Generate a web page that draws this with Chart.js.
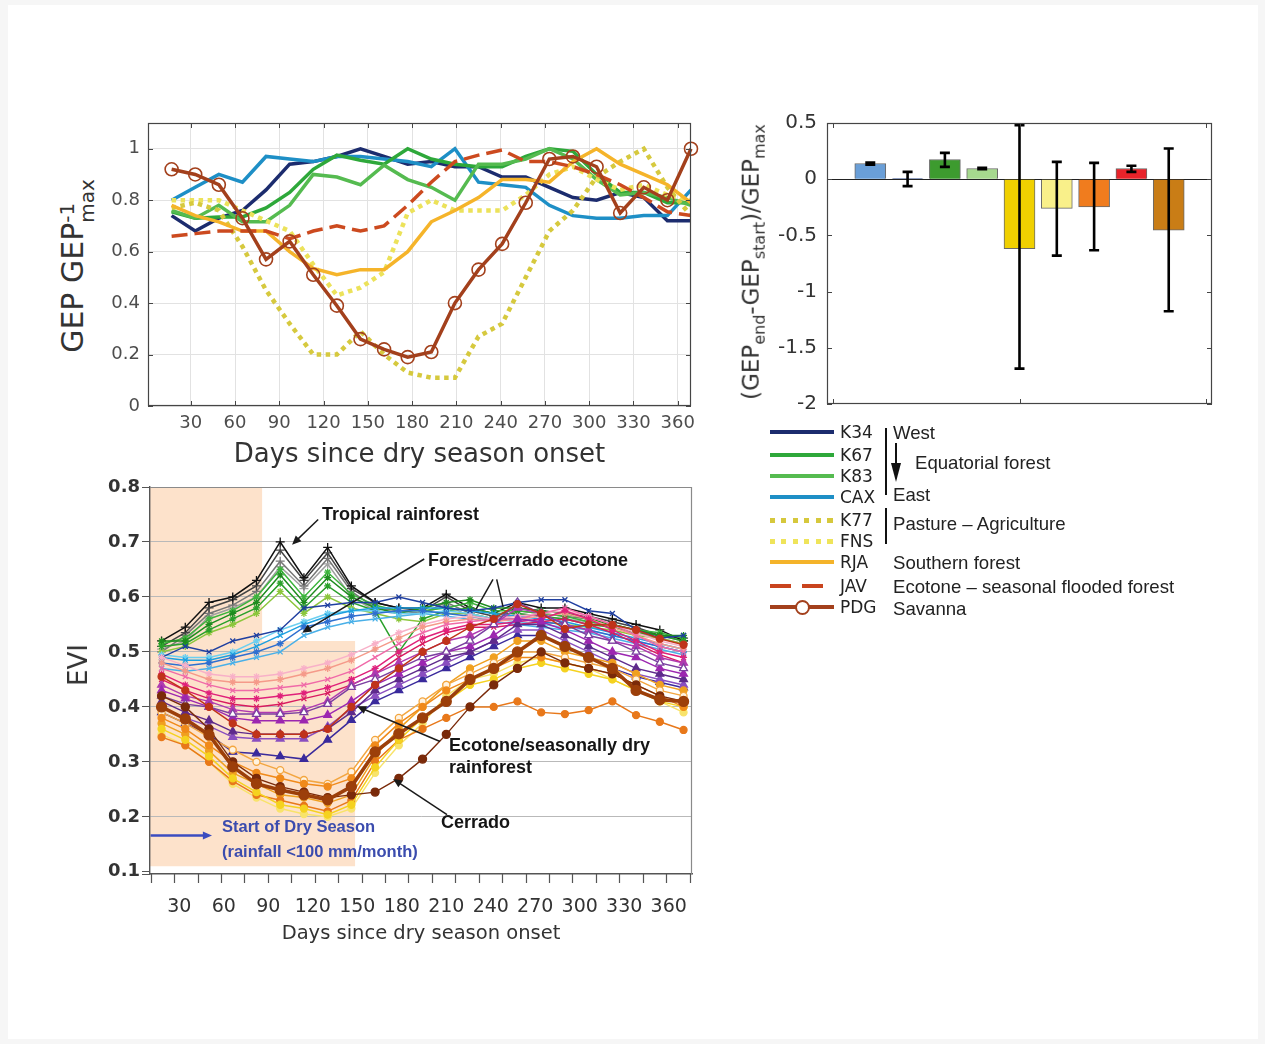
<!DOCTYPE html>
<html><head><meta charset="utf-8">
<script src="https://cdn.jsdelivr.net/npm/chart.js@4.4.0/dist/chart.umd.min.js"></script>
<style>
html,body{margin:0;padding:0;}
body{width:1265px;height:1044px;position:relative;overflow:hidden;background:#f6f6f6;font-family:"DejaVu Sans",sans-serif;}
#panel{position:absolute;left:8px;top:5px;width:1250px;height:1034px;background:#fff;}
canvas{position:absolute;}
.rot{position:absolute;transform:translate(-50%,-50%) rotate(-90deg);white-space:nowrap;color:#333;}
.t{position:absolute;transform:translateY(-50%);white-space:nowrap;}
.ann{font-family:"Liberation Sans",Arial,sans-serif;font-weight:bold;font-size:18px;color:#151515;}
.blue{font-family:"Liberation Sans",Arial,sans-serif;font-weight:bold;font-size:16.5px;color:#3b4cae;}
.lc{font-family:"DejaVu Sans";font-size:17px;color:#222;left:840px;}
.lg{font-family:"Liberation Sans",Arial,sans-serif;font-size:18.6px;color:#222;}
.ls{position:absolute;left:770px;width:64px;height:4px;margin-top:-2px;}
.vb{position:absolute;width:2px;background:#111;}
.ss{display:inline-block;line-height:1;text-align:left;}
.ss span{display:block;}
</style></head><body>
<div id="panel"></div>
<canvas id="cA" width="620" height="370" style="left:100px;top:110px"></canvas>
<canvas id="cB" width="480" height="320" style="left:760px;top:105px"></canvas>
<canvas id="cC" width="660" height="480" style="left:60px;top:470px"></canvas>

<!-- axis titles with sub/superscripts -->
<div class="rot" style="left:76px;top:266px;font-size:30px;">GEP GEP<span class="ss" style="font-size:20px;vertical-align:-0.55em;"><span>-1</span><span>max</span></span></div>
<div class="rot" style="left:753px;top:262px;font-size:23px;">(GEP<sub style="font-size:16px">end</sub>-GEP<sub style="font-size:16px">start</sub>)/GEP<sub style="font-size:16px">max</sub></div>
<div class="rot" style="left:78px;top:665px;font-size:26px;">EVI</div>

<!-- bottom panel annotations -->
<div class="t ann" style="left:322px;top:514px">Tropical rainforest</div>
<div class="t ann" style="left:428px;top:560px">Forest/cerrado ecotone</div>
<div class="t ann" style="left:449px;top:745px">Ecotone/seasonally dry</div>
<div class="t ann" style="left:449px;top:767px">rainforest</div>
<div class="t ann" style="left:441px;top:822px">Cerrado</div>
<div class="t blue" style="left:222px;top:826px">Start of Dry Season</div>
<div class="t blue" style="left:222px;top:851px">(rainfall &lt;100 mm/month)</div>

<!-- legend -->
<div class="ls" style="top:432px;background:#1c2c6e"></div><div class="t lc" style="top:432px">K34</div>
<div class="ls" style="top:455px;background:#2ea83a"></div><div class="t lc" style="top:455px">K67</div>
<div class="ls" style="top:476px;background:#55bb50"></div><div class="t lc" style="top:476px">K83</div>
<div class="ls" style="top:497px;background:#1e8fc6"></div><div class="t lc" style="top:497px">CAX</div>
<div class="ls" style="top:520px;height:5px;margin-top:-2.5px;background:repeating-linear-gradient(90deg,#d6c83c 0 5px,transparent 5px 11.5px)"></div><div class="t lc" style="top:520px">K77</div>
<div class="ls" style="top:541px;height:5px;margin-top:-2.5px;background:repeating-linear-gradient(90deg,#efe45a 0 5px,transparent 5px 11.5px)"></div><div class="t lc" style="top:541px">FNS</div>
<div class="ls" style="top:562px;background:#f4b32a"></div><div class="t lc" style="top:562px">RJA</div>
<div class="ls" style="top:586px;background:repeating-linear-gradient(90deg,#c9441e 0 21px,transparent 21px 32px)"></div><div class="t lc" style="top:586px">JAV</div>
<div class="ls" style="top:607px;background:#a3401c"></div>
<div style="position:absolute;left:795px;top:600px;width:11px;height:11px;border:2px solid #a3401c;border-radius:50%;background:#fff;"></div>
<div class="t lc" style="top:607px">PDG</div>
<div class="vb" style="left:885px;top:428px;height:67px"></div>
<div class="vb" style="left:885px;top:508px;height:36px"></div>
<div style="position:absolute;left:895px;top:443px;width:2px;height:24px;background:#111"></div>
<div style="position:absolute;left:891px;top:463px;width:0;height:0;border-left:5px solid transparent;border-right:5px solid transparent;border-top:19px solid #111"></div>
<div class="t lg" style="left:893px;top:433px">West</div>
<div class="t lg" style="left:915px;top:463px">Equatorial forest</div>
<div class="t lg" style="left:893px;top:495px">East</div>
<div class="t lg" style="left:893px;top:524px">Pasture – Agriculture</div>
<div class="t lg" style="left:893px;top:563px">Southern forest</div>
<div class="t lg" style="left:893px;top:587px">Ecotone – seasonal flooded forest</div>
<div class="t lg" style="left:893px;top:609px">Savanna</div>

<script>
// ---------------- DATA: top-left GEP panel ----------------
const gepDays = [17,33,49,65,81,97,113,129,145,161,177,193,209,225,241,257,273,289,305,321,337,353,369];
const gepXTicks = [30,60,90,120,150,180,210,240,270,300,330,360];
const gepYTicks = [0,0.2,0.4,0.6,0.8,1];
const K34 = [0.74,0.68,0.73,0.76,0.84,0.94,0.95,0.97,1.00,0.97,0.94,0.95,0.93,0.93,0.89,0.89,0.85,0.81,0.80,0.83,0.81,0.72,0.72];
const K67 = [0.755,0.73,0.735,0.735,0.77,0.83,0.92,0.975,0.955,0.94,1.00,0.96,0.94,0.93,0.93,0.97,1.00,0.99,0.90,0.83,0.83,0.79,0.79];
const K83 = [0.76,0.73,0.78,0.716,0.716,0.78,0.90,0.89,0.86,0.936,0.88,0.85,0.80,0.94,0.94,0.96,1.00,0.96,0.88,0.82,0.83,0.81,0.78];
const CAX = [0.80,0.85,0.90,0.87,0.97,0.96,0.95,0.97,0.97,0.96,0.95,0.93,1.00,0.87,0.86,0.85,0.78,0.74,0.73,0.73,0.74,0.74,0.84];
const K77 = [0.77,0.79,0.76,0.62,0.45,0.32,0.20,0.20,0.29,0.20,0.13,0.11,0.11,0.27,0.32,0.50,0.68,0.76,0.89,0.95,1.00,0.85,0.74];
const FNS = [0.80,0.80,0.80,0.76,0.72,0.68,0.55,0.43,0.46,0.52,0.75,0.80,0.76,0.76,0.76,0.82,0.90,0.93,0.88,0.84,0.86,0.82,0.80];
const RJA = [0.78,0.74,0.716,0.68,0.68,0.60,0.535,0.51,0.53,0.53,0.60,0.716,0.76,0.81,0.88,0.88,0.87,0.95,1.00,0.94,0.90,0.86,0.79];
const JAV = [0.66,0.67,0.68,0.68,0.68,0.65,0.68,0.70,0.68,0.70,0.78,0.87,0.95,0.975,0.995,0.95,0.95,0.93,0.90,0.86,0.81,0.755,0.74];
const PDG = [0.92,0.90,0.86,0.73,0.57,0.64,0.51,0.39,0.26,0.22,0.19,0.21,0.40,0.53,0.63,0.79,0.96,0.97,0.93,0.75,0.85,0.80,1.00];

// ---------------- DATA: top-right bar panel ----------------
const barSites = ['K34','K67','K83','CAX','K77','FNS','RJA','JAV','PDG'];
const barPos   = [1,2,3,4,5,6,7,8,9];
const barVals  = [0.14,0.005,0.175,0.095,-0.617,-0.26,-0.246,0.095,-0.454];
const barErrLo = [0.13,-0.062,0.11,0.088,-1.685,-0.68,-0.632,0.065,-1.175];
const barErrHi = [0.148,0.065,0.234,0.102,0.48,0.154,0.145,0.12,0.273];
const barXTicks = [0,5,10];
const barYTicks = [-2,-1.5,-1,-0.5,0,0.5];

// ---------------- DATA: bottom EVI panel ----------------
const eviDays = [18,34,50,66,82,98,114,130,146,162,178,194,210,226,242,258,274,290,306,322,338,354,370];
const eviXTicks = [30,60,90,120,150,180,210,240,270,300,330,360];
const eviYTicks = [0.1,0.2,0.3,0.4,0.5,0.6,0.7,0.8];
// tropical rainforest (black / grey)
const evi_rf1 = [0.52,0.545,0.59,0.60,0.63,0.70,0.635,0.69,0.62,0.59,0.58,0.58,0.605,0.58,0.57,0.59,0.58,0.58,0.57,0.56,0.55,0.54,0.52];
const evi_rf2 = [0.51,0.535,0.58,0.595,0.62,0.685,0.63,0.68,0.615,0.59,0.58,0.575,0.60,0.575,0.565,0.58,0.575,0.57,0.565,0.555,0.545,0.53,0.525];
const evi_rf3 = [0.50,0.53,0.57,0.585,0.61,0.665,0.62,0.67,0.61,0.58,0.575,0.57,0.59,0.57,0.56,0.575,0.57,0.565,0.56,0.55,0.54,0.53,0.52];
const evi_rf4 = [0.505,0.52,0.565,0.58,0.60,0.655,0.615,0.66,0.60,0.575,0.57,0.57,0.585,0.565,0.555,0.57,0.565,0.56,0.555,0.545,0.535,0.525,0.515];
// tropical rainforest (green)
const evi_gr1 = [0.52,0.52,0.55,0.57,0.59,0.64,0.59,0.635,0.60,0.58,0.57,0.58,0.59,0.595,0.58,0.58,0.575,0.57,0.56,0.55,0.54,0.53,0.53];
const evi_gr2 = [0.51,0.515,0.54,0.56,0.58,0.625,0.58,0.62,0.59,0.575,0.50,0.56,0.575,0.58,0.57,0.57,0.565,0.56,0.55,0.545,0.535,0.53,0.52];
const evi_gr3 = [0.515,0.525,0.56,0.575,0.60,0.65,0.60,0.645,0.605,0.585,0.575,0.575,0.58,0.59,0.575,0.575,0.57,0.565,0.555,0.55,0.54,0.535,0.525];
const evi_gr4 = [0.50,0.51,0.535,0.55,0.57,0.61,0.57,0.60,0.58,0.57,0.56,0.555,0.57,0.57,0.56,0.56,0.555,0.55,0.545,0.54,0.53,0.525,0.515];
// forest/cerrado ecotone (blues)
const evi_ec1 = [0.49,0.51,0.50,0.52,0.53,0.54,0.58,0.585,0.59,0.59,0.60,0.59,0.58,0.575,0.58,0.59,0.595,0.595,0.575,0.57,0.54,0.525,0.53];
const evi_ec2 = [0.48,0.475,0.48,0.49,0.50,0.515,0.545,0.555,0.565,0.57,0.575,0.575,0.57,0.565,0.56,0.56,0.555,0.55,0.54,0.53,0.52,0.51,0.50];
const evi_ec3 = [0.49,0.485,0.485,0.495,0.51,0.53,0.55,0.565,0.575,0.58,0.58,0.58,0.58,0.575,0.57,0.565,0.56,0.555,0.545,0.535,0.525,0.515,0.505];
const evi_ec4 = [0.495,0.49,0.49,0.50,0.52,0.54,0.555,0.57,0.575,0.575,0.57,0.57,0.575,0.57,0.56,0.555,0.55,0.545,0.54,0.53,0.52,0.51,0.50];
const evi_ec5 = [0.47,0.465,0.47,0.48,0.49,0.50,0.53,0.545,0.555,0.56,0.565,0.57,0.565,0.56,0.555,0.55,0.545,0.54,0.535,0.525,0.515,0.505,0.495];
// pinks
const evi_pk1 = [0.46,0.44,0.425,0.415,0.415,0.42,0.425,0.435,0.45,0.47,0.50,0.525,0.54,0.55,0.55,0.555,0.56,0.575,0.56,0.54,0.52,0.50,0.49];
const evi_pk2 = [0.47,0.455,0.44,0.43,0.43,0.435,0.44,0.45,0.465,0.49,0.515,0.535,0.55,0.555,0.56,0.56,0.57,0.58,0.565,0.55,0.53,0.51,0.50];
const evi_pk3 = [0.48,0.465,0.45,0.445,0.445,0.45,0.46,0.47,0.485,0.505,0.525,0.545,0.555,0.56,0.555,0.56,0.565,0.57,0.56,0.545,0.53,0.515,0.505];
const evi_pk4 = [0.45,0.43,0.415,0.405,0.40,0.405,0.415,0.425,0.44,0.46,0.49,0.515,0.535,0.545,0.545,0.55,0.555,0.56,0.55,0.535,0.515,0.495,0.48];
const evi_pk5 = [0.49,0.475,0.46,0.455,0.455,0.46,0.47,0.48,0.495,0.515,0.535,0.55,0.56,0.565,0.56,0.565,0.57,0.575,0.565,0.55,0.535,0.52,0.51];
// ecotone / seasonally dry rainforest (purples)
const evi_pu1 = [0.42,0.405,0.40,0.387,0.387,0.387,0.39,0.405,0.436,0.45,0.47,0.49,0.50,0.52,0.55,0.59,0.57,0.55,0.53,0.52,0.50,0.48,0.47];
const evi_pu2 = [0.43,0.415,0.40,0.38,0.375,0.375,0.375,0.385,0.41,0.44,0.46,0.48,0.50,0.51,0.53,0.56,0.555,0.54,0.52,0.50,0.49,0.47,0.46];
const evi_pu3 = [0.41,0.39,0.375,0.355,0.35,0.35,0.35,0.36,0.39,0.43,0.45,0.47,0.49,0.50,0.52,0.55,0.55,0.53,0.51,0.49,0.47,0.46,0.45];
const evi_pu4 = [0.40,0.38,0.365,0.345,0.342,0.342,0.342,0.364,0.397,0.42,0.44,0.46,0.48,0.50,0.52,0.54,0.54,0.52,0.50,0.48,0.46,0.45,0.44];
const evi_pu5 = [0.39,0.37,0.35,0.318,0.315,0.31,0.305,0.34,0.376,0.41,0.43,0.45,0.47,0.49,0.51,0.53,0.53,0.51,0.49,0.47,0.455,0.445,0.435];
const evi_pu6 = [0.44,0.42,0.41,0.395,0.39,0.39,0.395,0.41,0.44,0.46,0.48,0.50,0.52,0.53,0.55,0.58,0.57,0.55,0.54,0.52,0.51,0.49,0.48];
// cerrado (oranges / yellows / browns)
const evi_ce1 = [0.40,0.378,0.349,0.291,0.26,0.249,0.24,0.231,0.255,0.318,0.351,0.38,0.41,0.45,0.47,0.50,0.53,0.51,0.49,0.47,0.43,0.413,0.41];
const evi_ce2 = [0.38,0.36,0.33,0.30,0.28,0.27,0.26,0.255,0.27,0.33,0.37,0.40,0.43,0.45,0.47,0.49,0.49,0.48,0.47,0.46,0.44,0.42,0.40];
const evi_ce3 = [0.39,0.37,0.345,0.322,0.30,0.285,0.267,0.26,0.282,0.34,0.38,0.41,0.44,0.46,0.48,0.50,0.50,0.49,0.48,0.47,0.45,0.43,0.42];
const evi_ce4 = [0.36,0.34,0.31,0.27,0.245,0.222,0.215,0.204,0.222,0.29,0.34,0.38,0.41,0.44,0.45,0.47,0.48,0.47,0.46,0.45,0.43,0.41,0.40];
const evi_ce5 = [0.345,0.33,0.30,0.265,0.24,0.23,0.22,0.21,0.23,0.30,0.34,0.36,0.38,0.40,0.40,0.41,0.39,0.387,0.394,0.41,0.385,0.373,0.358];
const evi_ce6 = [0.37,0.35,0.32,0.28,0.26,0.24,0.235,0.225,0.24,0.31,0.36,0.40,0.44,0.47,0.49,0.52,0.52,0.50,0.49,0.48,0.46,0.44,0.43];
const evi_ce7 = [0.42,0.40,0.36,0.30,0.27,0.255,0.245,0.235,0.24,0.245,0.27,0.305,0.35,0.40,0.44,0.47,0.50,0.48,0.47,0.46,0.44,0.42,0.41];
const evi_ce8 = [0.455,0.43,0.40,0.37,0.35,0.35,0.35,0.36,0.40,0.44,0.47,0.50,0.52,0.545,0.56,0.587,0.57,0.542,0.55,0.549,0.54,0.524,0.513];
const evi_ce9 = [0.35,0.33,0.30,0.26,0.235,0.215,0.205,0.20,0.215,0.28,0.33,0.37,0.42,0.45,0.46,0.48,0.49,0.48,0.47,0.45,0.43,0.41,0.39];

// annotation geometry in data units (day, EVI)
const eviShade = {x0:10.2, x1:85.8, x2:148.5, yTop:0.8, yStep:0.52, yBot:0.11};
const eviArrows = [
  {from:[123.6,0.741], to:[106.0,0.695], head:true},
  {from:[195.1,0.669], to:[112.8,0.535], head:true},
  {from:[241.5,0.632], to:[230.1,0.578], head:false},
  {from:[244.0,0.632], to:[248.3,0.582], head:false},
  {from:[205.8,0.337], to:[149.8,0.401], head:true},
  {from:[210.5,0.204], to:[174.1,0.269], head:true},
  {from:[10.6,0.166], to:[52.0,0.166], head:true, color:'#3b4cc0', w:2.6}
];

// ---------------- helpers ----------------
const pts = (days, vals) => vals.map((v,i)=>({x:days[i], y:v}));
const FONT = 'DejaVu Sans';

const mbox = {id:'mbox', afterDraw(c, args, o){
  const ctx=c.ctx, a=c.chartArea, L=o.len||5, xs=c.scales.x, ys=c.scales.y;
  ctx.save(); ctx.strokeStyle=o.color||'#444'; ctx.lineWidth=1;
  ctx.beginPath();
  xs.ticks.forEach(t=>{const p=Math.round(xs.getPixelForValue(t.value))+0.5;
    ctx.moveTo(p,a.bottom); ctx.lineTo(p,a.bottom-L); ctx.moveTo(p,a.top); ctx.lineTo(p,a.top+L);});
  ys.ticks.forEach(t=>{const p=Math.round(ys.getPixelForValue(t.value))+0.5;
    ctx.moveTo(a.left,p); ctx.lineTo(a.left+L,p); ctx.moveTo(a.right,p); ctx.lineTo(a.right-L,p);});
  ctx.stroke();
  ctx.lineWidth=1.2; ctx.strokeRect(a.left+0.5,a.top+0.5,a.width-1,a.height-1);
  ctx.restore();
}};

// ---------------- chart A ----------------
const lineDs = (label, vals, color, w, extra) => Object.assign({label, data:pts(gepDays, vals), borderColor:color, backgroundColor:color, borderWidth:w, pointRadius:0, fill:false}, extra||{});
new Chart(document.getElementById('cA'), {
  type:'line',
  data:{datasets:[
    lineDs('PDG', PDG, '#a3401c', 3.5, {pointRadius:6.5, pointBorderWidth:1.6, pointBorderColor:'#a3401c', pointBackgroundColor:'rgba(255,255,255,0)', clip:10}),
    lineDs('JAV', JAV, '#cc4a1f', 3.5, {borderDash:[16,7]}),
    lineDs('RJA', RJA, '#f5b42a', 3.5),
    lineDs('K77', K77, '#d6c93e', 4.5, {borderDash:[4.5,4.5]}),
    lineDs('FNS', FNS, '#ece25a', 4.5, {borderDash:[4.5,4.5]}),
    lineDs('K83', K83, '#55bb50', 3.5),
    lineDs('K67', K67, '#2ea83a', 3.5),
    lineDs('CAX', CAX, '#1e8fc6', 3.5),
    lineDs('K34', K34, '#1c2c6e', 3.5)
  ]},
  options:{
    responsive:false, animation:false, devicePixelRatio:1,
    layout:{autoPadding:false, padding:{top:13,right:29,left:0,bottom:0}},
    plugins:{legend:{display:false}, tooltip:{enabled:false}, mbox:{color:'#454545',len:5}},
    elements:{line:{tension:0}},
    scales:{
      x:{type:'linear', min:1, max:369,
        afterBuildTicks:s=>{s.ticks=gepXTicks.map(v=>({value:v}));},
        afterFit:s=>{s.height=74;},
        grid:{color:'#e2e2e2', drawTicks:false}, border:{display:false},
        ticks:{font:{family:FONT,size:18}, color:'#4d4d4d', padding:7, maxRotation:0, autoSkip:false, callback:v=>String(v)},
        title:{display:true, text:'Days since dry season onset', font:{family:FONT,size:26}, color:'#333', padding:{top:0,bottom:9}}},
      y:{type:'linear', min:0, max:1.1,
        afterBuildTicks:s=>{s.ticks=gepYTicks.map(v=>({value:v}));},
        afterFit:s=>{s.width=48;},
        grid:{color:'#e2e2e2', drawTicks:true, tickLength:8, tickColor:'rgba(0,0,0,0)'}, border:{display:false},
        ticks:{font:{family:FONT,size:18}, color:'#4d4d4d', padding:0, callback:v=>String(v)}}
    }
  },
  plugins:[mbox]
});

// ---------------- chart B ----------------
const errBars = {id:'errbars', afterDatasetsDraw(c){
  const ctx=c.ctx, xs=c.scales.x, ys=c.scales.y;
  ctx.save(); ctx.strokeStyle='#000'; ctx.lineWidth=2.6;
  barPos.forEach((p,i)=>{
    const px=xs.getPixelForValue(p), y1=ys.getPixelForValue(barErrLo[i]), y2=ys.getPixelForValue(barErrHi[i]);
    ctx.beginPath(); ctx.moveTo(px,y1); ctx.lineTo(px,y2);
    ctx.moveTo(px-5,y1); ctx.lineTo(px+5,y1); ctx.moveTo(px-5,y2); ctx.lineTo(px+5,y2); ctx.stroke();
  });
  ctx.restore();
}};
new Chart(document.getElementById('cB'), {
  type:'bar',
  data:{labels:barSites, datasets:[{
    data: barVals.map((v,i)=>({x:barPos[i], y:v})),
    backgroundColor:['#6a9fd8','#3a5fb5','#3d9b2f','#a6d98e','#f0d000','#f9f08a','#f07c1e','#e8232a','#c97d16'],
    borderColor:'#6a6a6a', borderWidth:1, barThickness:31
  }]},
  options:{
    responsive:false, animation:false, devicePixelRatio:1,
    layout:{autoPadding:false, padding:{top:18,right:28,left:0,bottom:0}},
    plugins:{legend:{display:false}, tooltip:{enabled:false}, mbox:{color:'#454545',len:5}},
    scales:{
      x:{type:'linear', min:-0.16, max:10.16, offset:false,
        afterBuildTicks:s=>{s.ticks=barXTicks.map(v=>({value:v}));},
        afterFit:s=>{s.height=21;},
        grid:{display:false}, border:{display:false}, ticks:{display:false}},
      y:{type:'linear', min:-2, max:0.5,
        afterBuildTicks:s=>{s.ticks=barYTicks.map(v=>({value:v}));},
        afterFit:s=>{s.width=67;},
        grid:{drawTicks:true, tickLength:10, tickColor:'rgba(0,0,0,0)', color:ctx=>ctx.tick&&ctx.tick.value===0?'#222':'rgba(0,0,0,0)', lineWidth:1}, border:{display:false},
        ticks:{font:{family:FONT,size:20}, color:'#333', padding:0, callback:v=>String(v)}}
    }
  },
  plugins:[mbox, errBars]
});

// ---------------- chart C ----------------
const eviSeries = [
  {d:evi_ce1,c:'#9c3f0a',s:'circle',w:3.6,r:5},
  {d:evi_ce7,c:'#7a2a0a',s:'circle',w:1.4,r:4},
  {d:evi_ce2,c:'#f08a1a',s:'circle'},
  {d:evi_ce3,c:'#f3a640',s:'circle',f:'#fff3e0'},
  {d:evi_ce4,c:'#f5d21f',s:'circle'},
  {d:evi_ce5,c:'#e8781a',s:'circle'},
  {d:evi_ce6,c:'#f0a020',s:'circle'},
  {d:evi_ce9,c:'#f8e36a',s:'circle'},
  {d:evi_ce8,c:'#c0331a',s:'circle'},
  {d:evi_pu1,c:'#7b3fa0',s:'triangle',f:'#ffffff',r:4.5},
  {d:evi_pu2,c:'#9c27b0',s:'triangle',r:4.5},
  {d:evi_pu3,c:'#5e2a8c',s:'triangle',r:4.5},
  {d:evi_pu4,c:'#8a4fc0',s:'triangle',r:4.5},
  {d:evi_pu5,c:'#3a2a9c',s:'triangle',r:4.5},
  {d:evi_pu6,c:'#b03ab0',s:'triangle',r:4.5},
  {d:evi_pk1,c:'#e0207a',s:'star'},
  {d:evi_pk2,c:'#f06aa8',s:'crossRot'},
  {d:evi_pk3,c:'#f59a8a',s:'star'},
  {d:evi_pk4,c:'#d81b60',s:'crossRot'},
  {d:evi_pk5,c:'#f8b0c8',s:'star'},
  {d:evi_ec1,c:'#1f3fa0',s:'crossRot'},
  {d:evi_ec2,c:'#2f6fd0',s:'star'},
  {d:evi_ec3,c:'#1ea0e0',s:'crossRot'},
  {d:evi_ec4,c:'#6ccff0',s:'star'},
  {d:evi_ec5,c:'#4ab0e8',s:'crossRot'},
  {d:evi_gr1,c:'#1e8c1e',s:'star'},
  {d:evi_gr2,c:'#2aa02a',s:'star'},
  {d:evi_gr3,c:'#3cb43c',s:'star'},
  {d:evi_gr4,c:'#8cc63c',s:'star'},
  {d:evi_rf1,c:'#111111',s:'cross',r:4.5},
  {d:evi_rf2,c:'#444444',s:'cross',r:4.5},
  {d:evi_rf3,c:'#777777',s:'cross',r:4.5},
  {d:evi_rf4,c:'#a0a0a0',s:'cross',r:4.5}
];
const eviDecor = {id:'eviDecor',
  beforeDraw(c){
    const ctx=c.ctx, xs=c.scales.x, ys=c.scales.y, S=eviShade;
    const X=v=>xs.getPixelForValue(v), Y=v=>ys.getPixelForValue(v);
    ctx.save(); ctx.fillStyle='#fde2cb';
    ctx.beginPath();
    ctx.moveTo(X(S.x0),Y(S.yTop)); ctx.lineTo(X(S.x1),Y(S.yTop)); ctx.lineTo(X(S.x1),Y(S.yStep));
    ctx.lineTo(X(S.x2),Y(S.yStep)); ctx.lineTo(X(S.x2),Y(S.yBot)); ctx.lineTo(X(S.x0),Y(S.yBot)); ctx.closePath(); ctx.fill();
    ctx.restore();
  },
  afterDraw(c){
    const ctx=c.ctx, a=c.chartArea, xs=c.scales.x, ys=c.scales.y;
    const X=v=>xs.getPixelForValue(v), Y=v=>ys.getPixelForValue(v);
    ctx.save();
    ctx.strokeStyle='#8a8a8a'; ctx.lineWidth=1.2;
    ctx.beginPath(); ctx.moveTo(a.left,a.top+0.5); ctx.lineTo(a.right-0.5,a.top+0.5); ctx.lineTo(a.right-0.5,a.bottom); ctx.stroke();
    ctx.strokeStyle='#555'; ctx.lineWidth=1.2; ctx.beginPath();
    for(let d=10.7; d<375; d+=15.8){const p=Math.round(X(d))+0.5; ctx.moveTo(p,a.bottom); ctx.lineTo(p,a.bottom+9);}
    ctx.moveTo(a.left-8,a.bottom+0.5); ctx.lineTo(a.left,a.bottom+0.5);
    ctx.stroke();
    eviArrows.forEach(ar=>{
      const x1=X(ar.from[0]), y1=Y(ar.from[1]), x2=X(ar.to[0]), y2=Y(ar.to[1]);
      const col=ar.color||'#1a1a1a';
      ctx.strokeStyle=col; ctx.fillStyle=col; ctx.lineWidth=ar.w||1.5;
      const ang=Math.atan2(y2-y1,x2-x1), hl=ar.head?10:0;
      ctx.beginPath(); ctx.moveTo(x1,y1); ctx.lineTo(x2-Math.cos(ang)*hl*0.8,y2-Math.sin(ang)*hl*0.8); ctx.stroke();
      if(ar.head){
        ctx.beginPath(); ctx.moveTo(x2,y2);
        ctx.lineTo(x2-hl*Math.cos(ang-0.42),y2-hl*Math.sin(ang-0.42));
        ctx.lineTo(x2-hl*Math.cos(ang+0.42),y2-hl*Math.sin(ang+0.42)); ctx.closePath(); ctx.fill();
      }
    });
    ctx.restore();
  }
};
new Chart(document.getElementById('cC'), {
  type:'line',
  data:{datasets: eviSeries.map(o=>({
    data:pts(eviDays,o.d), borderColor:o.c, backgroundColor:o.c, borderWidth:o.w||1.5,
    pointStyle:o.s, pointRadius:o.r||3.5, pointBorderColor:o.c, pointBackgroundColor:o.f||o.c, pointBorderWidth:1.3, fill:false
  }))},
  options:{
    responsive:false, animation:false, devicePixelRatio:1,
    layout:{autoPadding:false, padding:{top:17,right:28,left:0,bottom:0}},
    plugins:{legend:{display:false}, tooltip:{enabled:false}},
    elements:{line:{tension:0}},
    scales:{
      x:{type:'linear', min:10.2, max:375.7,
        afterBuildTicks:s=>{s.ticks=eviXTicks.map(v=>({value:v}));},
        afterFit:s=>{s.height=76;},
        grid:{display:false, drawTicks:false}, border:{display:true,color:'#555',width:1.4},
        ticks:{font:{family:FONT,size:19}, color:'#333', padding:22, maxRotation:0, autoSkip:false, callback:v=>String(v)},
        title:{display:true, text:'Days since dry season onset', font:{family:FONT,size:19.5}, color:'#333', padding:{top:0,bottom:4}}},
      y:{type:'linear', min:0.096, max:0.8,
        afterBuildTicks:s=>{s.ticks=eviYTicks.map(v=>({value:v}));},
        afterFit:s=>{s.width=90;},
        grid:{color:ctx=>(ctx.tick&&(ctx.tick.value<0.15||ctx.tick.value>0.75))?'rgba(0,0,0,0)':'#b9b9b9', tickColor:'#555', tickLength:8, drawTicks:true},
        border:{display:true,color:'#555',width:1.4},
        ticks:{font:{family:FONT,size:18,weight:'bold'}, color:'#333', padding:2, callback:v=>String(v)}}
    }
  },
  plugins:[eviDecor]
});
</script>
</body></html>
